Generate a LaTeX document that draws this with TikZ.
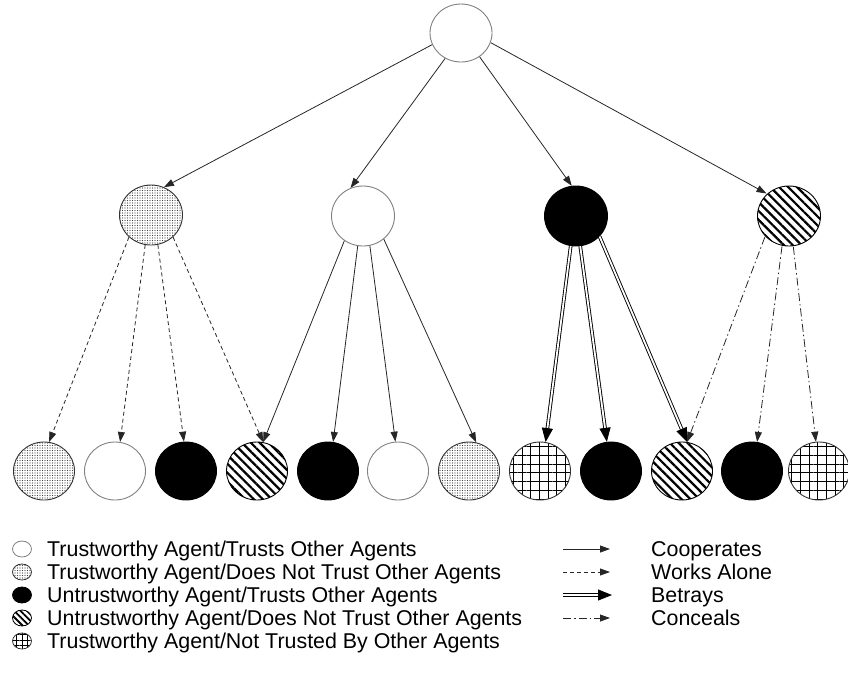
\documentclass[tikz,border=0pt]{standalone}
\usepackage{fontspec}
\setmainfont{Liberation Sans}
\usetikzlibrary{arrows.meta,patterns.meta,shapes.geometric}

\tikzset{
  agent/.style={ellipse, inner sep=0pt, minimum width=61pt, minimum height=58pt, line width=0.9pt},
  trustsall/.style={agent, draw=gray, fill=white},
  wary/.style={agent, draw=black!80, pattern={Dots[distance=2.5pt, radius=0.6pt]}, pattern color=black!75},
  cheat/.style={agent, draw=black, fill=black},
  cheatwary/.style={agent, draw=black, pattern={Lines[angle=-45, distance=6.3pt, line width=2.2pt]}},
  shunned/.style={agent, draw=black!80, pattern={Hatch[distance=8.7pt, line width=0.9pt]}},
  key/.style={minimum width=19pt, minimum height=16pt, line width=0.8pt},
  keytext/.style={anchor=base west, inner sep=0pt, font=\fontsize{21.4}{23}\selectfont},
  coop/.style={draw=black!85, line width=0.8pt, -{Triangle[length=10pt, width=7pt]}},
  alone/.style={coop, dash pattern=on 4pt off 3pt},
  betray/.style={draw=black, line width=0.9pt, double=white, double distance=1.8pt,
                 -{Triangle[length=14pt, width=11pt]}},
  conceal/.style={coop, dash pattern=on 8pt off 3pt on 1.5pt off 3pt},
}

\begin{document}
\begin{tikzpicture}[x=1pt, y=-1pt]
\useasboundingbox (0,0) rectangle (848,673);

% root and second level
\node[trustsall, minimum width=62pt] (r) at (461,33) {};
\node[wary, minimum width=63pt, minimum height=60pt] (m1) at (151,215) {};
\node[trustsall, minimum width=63pt, minimum height=60pt] (m2) at (363,216) {};
\node[cheat, minimum width=63pt, minimum height=60pt] (m3) at (576,216) {};
\node[cheatwary, minimum width=63pt, minimum height=60pt] (m4) at (789,216) {};

% leaves
\node[wary]      (l1)  at (44,471) {};
\node[trustsall] (l2)  at (115,471) {};
\node[cheat]     (l3)  at (186,471) {};
\node[cheatwary] (l4)  at (257,471) {};
\node[cheat]     (l5)  at (328,471) {};
\node[trustsall] (l6)  at (398,471) {};
\node[wary]      (l7)  at (469,471) {};
\node[shunned]   (l8)  at (540,471) {};
\node[cheat]     (l9)  at (611,471) {};
\node[cheatwary] (l10) at (682,471) {};
\node[cheat]     (l11) at (752,471) {};
\node[shunned]   (l12) at (819,471) {};

% root to second level
\draw[coop] (r.202) -- (m1.65);
\draw[coop] (r.238) -- (m2.114);
\draw[coop] (r.308) -- (m3.98);
\draw[coop] (r.342) -- (m4.135);

% second level to leaves
\draw[alone] (m1.225) -- (l1.80);
\draw[alone] (m1.259) -- (l2.80);
\draw[alone] (m1.283) -- (l3.94);
\draw[alone] (m1.315) -- (l4.78);

\draw[coop] (m2.233) -- (l4.78);
\draw[coop] (m2.260) -- (l5.80);
\draw[coop] (m2.283) -- (l6.95);
\draw[coop] (m2.312) -- (l7.76);

\draw[betray] (m3.260) -- (l8.79);
\draw[betray] (m3.278) -- (l9.98);
\draw[betray] (m3.319) -- (l10.80);

\draw[conceal] (m4.221) -- (l10.80);
\draw[conceal] (m4.257) -- (l11.80);
\draw[conceal] (m4.278) -- (l12.96);

% legend: agent kinds
\node[trustsall, key] (k1) at (22,549) {};
\node[wary, key]      (k2) at (22,572) {};
\node[cheat, key]     (k3) at (22,595) {};
\node[cheatwary, key, pattern={Lines[angle=-45, distance=4.5pt, line width=1.8pt]}] (k4) at (22,618) {};
\node[shunned, key, pattern={Hatch[distance=5.5pt, line width=0.9pt]}] (k5) at (22,641) {};
\node[keytext] (t1) at (47,556) {Trustworthy Agent/Trusts Other Agents};
\node[keytext] (t2) at (47,579) {Trustworthy Agent/Does Not Trust Other Agents};
\node[keytext] (t3) at (47,602) {Untrustworthy Agent/Trusts Other Agents};
\node[keytext] (t4) at (47,625) {Untrustworthy Agent/Does Not Trust Other Agents};
\node[keytext] (t5) at (47,648) {Trustworthy Agent/Not Trusted By Other Agents};

% legend: actions
\coordinate (a1) at (563,549); \coordinate (b1) at (610,549);
\coordinate (a2) at (563,572); \coordinate (b2) at (610,572);
\coordinate (a3) at (563,595); \coordinate (b3) at (612,595);
\coordinate (a4) at (563,618); \coordinate (b4) at (610,618);
\draw[coop] (a1) -- (b1);
\draw[alone] (a2) -- (b2);
\draw[betray] (a3) -- (b3);
\draw[conceal] (a4) -- (b4);
\node[keytext] (u1) at (651,556) {Cooperates};
\node[keytext] (u2) at (651,579) {Works Alone};
\node[keytext] (u3) at (651,602) {Betrays};
\node[keytext] (u4) at (651,625) {Conceals};
\end{tikzpicture}
\end{document}
